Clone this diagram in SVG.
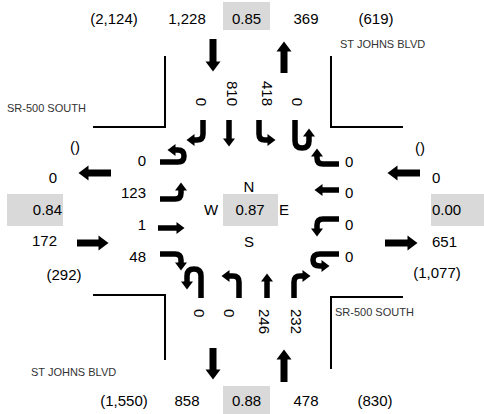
<svg xmlns="http://www.w3.org/2000/svg" width="484" height="414" viewBox="0 0 484 414">
<defs>
<style>
.t{font-family:"Liberation Sans",Arial,sans-serif;font-size:15px;fill:#000}
.m{text-anchor:middle}
.e{text-anchor:end}
.st{font-family:"Liberation Sans",Arial,sans-serif;font-size:11px;fill:#333}
.box{fill:#d9d9d9}
.road{fill:none;stroke:#000;stroke-width:2}
.a{fill:none;stroke:#000;stroke-width:5.5;marker-end:url(#h)}
.A{fill:none;stroke:#000;stroke-width:7;marker-end:url(#H)}
</style>
<marker id="h" markerUnits="userSpaceOnUse" markerWidth="9" markerHeight="12" refX="0.5" refY="6" orient="auto" overflow="visible"><path d="M0,0 L8,6 L0,12 z" fill="#000"/></marker>
<marker id="H" markerUnits="userSpaceOnUse" markerWidth="11" markerHeight="15" refX="0.5" refY="7.5" orient="auto" overflow="visible"><path d="M0,0 L10,7.5 L0,15 z" fill="#000"/></marker>
</defs>
<rect width="484" height="414" fill="#fff"/>
<g id="roads">
<polyline class="road" points="93,127 165,127 165,56"/>
<polyline class="road" points="403,127 331,127 331,56"/>
<polyline class="road" points="93,295 165,295 165,360"/>
<polyline class="road" points="403,297 331,297 331,369"/>
</g>
<g id="street-names">
<text class="st" x="340" y="48">ST JOHNS BLVD</text>
<text class="st" x="7" y="112">SR-500 SOUTH</text>
<text class="st" x="335" y="316">SR-500 SOUTH</text>
<text class="st" x="31" y="376">ST JOHNS BLVD</text>
</g>
<g id="north-leg">
<text class="t m" x="114" y="24">(2,124)</text>
<text class="t m" x="187" y="24">1,228</text>
<rect class="box" x="223" y="2" width="47" height="28"/>
<text class="t m" x="246.5" y="24">0.85</text>
<text class="t m" x="306" y="24">369</text>
<text class="t m" x="376" y="24">(619)</text>
<text class="t e" transform="translate(196,106) rotate(90)">0</text>
<text class="t e" transform="translate(227,106) rotate(90)">810</text>
<text class="t e" transform="translate(262,106) rotate(90)">418</text>
<text class="t e" transform="translate(292,106) rotate(90)">0</text>
</g>
<g id="south-leg">
<text class="t m" x="124" y="406">(1,550)</text>
<text class="t m" x="187" y="406">858</text>
<rect class="box" x="223" y="386" width="47" height="28"/>
<text class="t m" x="246.5" y="406">0.88</text>
<text class="t m" x="306" y="406">478</text>
<text class="t m" x="375" y="406">(830)</text>
<text class="t" transform="translate(194,309) rotate(90)">0</text>
<text class="t" transform="translate(224,309) rotate(90)">0</text>
<text class="t" transform="translate(259,309) rotate(90)">246</text>
<text class="t" transform="translate(291,309) rotate(90)">232</text>
</g>
<g id="west-leg">
<text class="t m" x="75" y="152">()</text>
<text class="t e" x="57" y="183">0</text>
<rect class="box" x="7" y="194" width="56" height="32"/>
<text class="t e" x="62" y="215">0.84</text>
<text class="t e" x="57" y="246">172</text>
<text class="t m" x="64" y="280">(292)</text>
<text class="t e" x="146" y="166">0</text>
<text class="t e" x="146" y="198">123</text>
<text class="t e" x="146" y="230">1</text>
<text class="t e" x="146" y="262">48</text>
</g>
<g id="east-leg">
<text class="t m" x="420" y="153">()</text>
<text class="t" x="432" y="183">0</text>
<rect class="box" x="431" y="194" width="53" height="32"/>
<text class="t" x="432" y="215">0.00</text>
<text class="t" x="432" y="247">651</text>
<text class="t m" x="437" y="278">(1,077)</text>
<text class="t" x="345" y="167">0</text>
<text class="t" x="345" y="198">0</text>
<text class="t" x="345" y="230">0</text>
<text class="t" x="345" y="262">0</text>
</g>
<g id="center">
<text class="t m" x="249" y="192">N</text>
<text class="t m" x="211" y="215">W</text>
<rect class="box" x="223" y="194" width="55" height="32"/>
<text class="t m" x="250" y="215">0.87</text>
<text class="t m" x="284" y="215">E</text>
<text class="t m" x="249" y="247">S</text>
</g>
<g id="connectors">
<path class="A" d="M213,39 L213,62"/>
<path class="A" d="M284,73 L284,51"/>
<path class="A" d="M213,348 L213,370"/>
<path class="A" d="M284,382 L284,359"/>
<path class="A" d="M111,173 L88,173"/>
<path class="A" d="M77,243 L99,243"/>
<path class="A" d="M420,173 L397,173"/>
<path class="A" d="M385,243 L408,243"/>
<path class="a" d="M160,162 L178,162 Q184,162 184,156 Q184,150 178,150 L175,150"/>
<path class="a" d="M160,199 L175,199 Q181,199 181,193 L181,190"/>
<path class="a" d="M158,228 L177,228"/>
<path class="a" d="M160,254 L175,254 Q181,254 181,260 L181,263"/>
<path class="a" d="M339,164 L323,164 Q317,164 317,158 L317,156"/>
<path class="a" d="M339,190 L322,190"/>
<path class="a" d="M339,219 L323,219 Q317,219 317,225 L317,229"/>
<path class="a" d="M339,254 L320,254 Q313,254 313,260 Q313,266 320,266 L322,266"/>
<path class="a" d="M203,120 L203,134 Q203,140 197,140 L194,140"/>
<path class="a" d="M229,120 L229,139"/>
<path class="a" d="M259,120 L259,134 Q259,140 265,140 L268,140"/>
<path class="a" d="M295,120 L295,141 Q295,148 302,148 Q309,148 309,141 L309,136"/>
<path class="a" d="M201,298 L201,276 Q201,269 194,269 Q187,269 187,276 L187,282"/>
<path class="a" d="M239,298 L239,282 Q239,276 233,276 L229,276"/>
<path class="a" d="M267,298 L267,281"/>
<path class="a" d="M294,298 L294,282 Q294,276 300,276 L303,276"/>
</g>
</svg>
